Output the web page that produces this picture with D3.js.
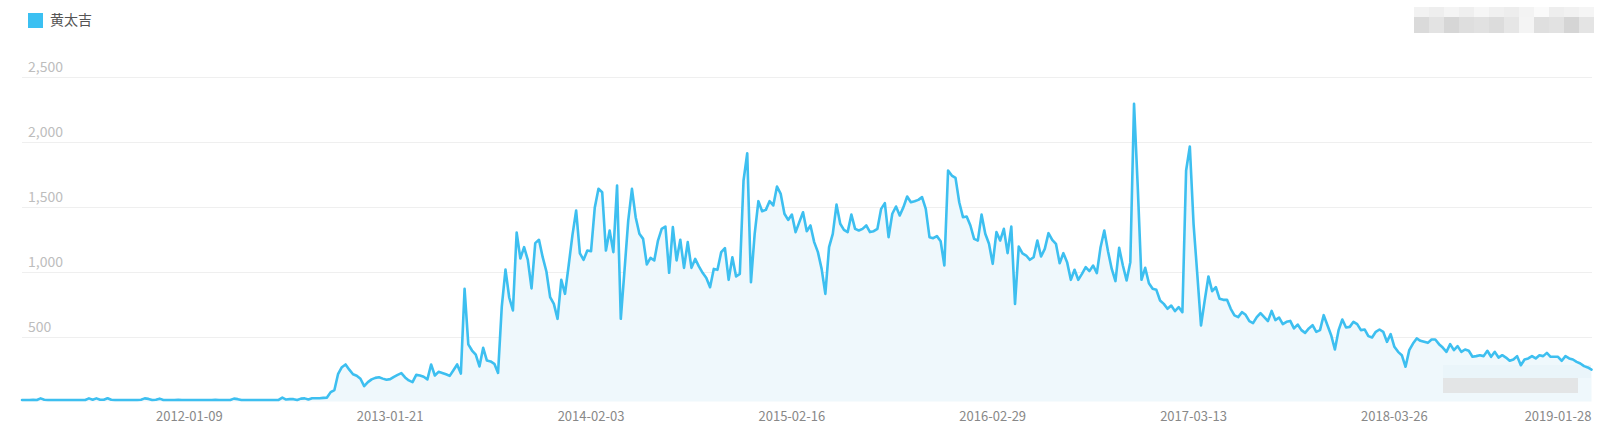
<!DOCTYPE html>
<html>
<head>
<meta charset="utf-8">
<script src="https://cdn.jsdelivr.net/npm/d3@7"></script>
<style>
  body { margin: 0; background: #fff; }
  svg { display: block; font-family: "Microsoft YaHei", "Noto Sans CJK SC", sans-serif; }
</style>
</head>
<body>
<svg width="1605" height="429"></svg>
<script>
// weekly search index, first week starts 2011-02-28
var seriesName = "黄太吉";
var startWeek = "2011-02-28";
var values = [
  12,12,12,14,12,24,14,12,12,12, 12,12,12,12,12,12,12,12,24,14,
  24,13,14,25,13,12,12,12,12,12, 12,12,14,24,20,12,14,22,12,12,
  12,12,13,12,12,12,12,12,12,12, 12,12,13,12,12,12,12,22,18,12,
  12,12,12,12,12,12,12,12,12,12, 30,15,18,18,12,22,24,15,25,25,
  25,28,30,72,88,213,264,285,245,210, 198,175,118,149,170,182,186,176,167,172,
  190,205,218,185,162,149,205,200,190,170, 285,200,228,220,210,197,240,285,215,867,
  440,392,360,270,413,315,308,290,220,730, 1015,800,700,1300,1100,1187,1090,870,1218,1244,
  1110,1000,803,751,636,936,828,1050,1280,1469, 1140,1090,1161,1156,1490,1636,1610,1161,1315,1149,
  1661,636,1008,1392,1636,1418,1290,1251,1054,1105, 1085,1238,1328,1346,990,1341,1085,1244,1028,1226,
  1028,1097,1040,990,950,879,1020,1013,1149,1179, 936,1110,962,982,1700,1910,918,1290,1541,1464,
  1474,1541,1508,1654,1597,1444,1397,1438,1303,1380, 1456,1310,1354,1226,1149,1020,828,1187,1290,1515,
  1367,1320,1303,1438,1328,1315,1328,1354,1303,1310, 1328,1482,1526,1264,1444,1500,1431,1495,1577,1533,
  1541,1551,1572,1482,1264,1256,1272,1233,1046,1777, 1738,1720,1533,1418,1423,1354,1251,1238,1438,1290,
  1213,1059,1303,1238,1328,1141,1345,751,1192,1140, 1123,1090,1110,1238,1115,1174,1295,1244,1213,1064,
  1141,1072,936,1013,936,982,1033,1003,1046,987, 1187,1315,1156,1020,926,1182,1046,931,1072,2290,
  1649,936,1028,910,867,859,777,751,713,738, 695,726,687,1777,1962,1367,982,585,777,962,
  849,879,790,782,782,713,662,649,687,667, 618,603,649,680,649,618,697,626,646,595,
  613,620,562,592,549,528,562,587,536,549, 664,587,510,400,549,631,569,574,613,595,
  549,554,503,492,536,554,536,459,518,421, 382,356,267,395,446,485,467,459,451,477,
  477,441,415,382,441,395,426,382,400,390, 344,349,356,349,390,344,382,338,356,338,
  313,323,349,279,323,331,349,331,356,349, 374,344,344,344,313,349,331,323,305,292,
  272,262,246
];
var yTicks = [500, 1000, 1500, 2000, 2500];
var xTickLabels = ["2012-01-09", "2013-01-21", "2014-02-03", "2015-02-16",
                   "2016-02-29", "2017-03-13", "2018-03-26", "2019-01-28"];

var parse = d3.utcParse("%Y-%m-%d");
var t0 = parse(startWeek);
var data = values.map(function(v, i) {
  return { date: d3.utcDay.offset(t0, i * 7), value: v };
});

var svg = d3.select("svg");

var x = d3.scaleUtc()
    .domain(d3.extent(data, function(d) { return d.date; }))
    .range([22, 1591.5]);

var y = d3.scaleLinear()
    .domain([0, 2500])
    .range([401.5, 76.5]);

// grid
svg.append("g")
  .selectAll("line")
  .data(yTicks)
  .enter().append("line")
    .attr("x1", 22)
    .attr("x2", 1592)
    .attr("y1", function(d) { return Math.round(y(d)) + 0.5; })
    .attr("y2", function(d) { return Math.round(y(d)) + 0.5; })
    .attr("stroke", "#efefef")
    .attr("stroke-width", 1);

svg.append("g")
  .selectAll("text")
  .data(yTicks)
  .enter().append("text")
    .attr("x", 28)
    .attr("y", function(d) { return y(d) - 4.5; })
    .attr("fill", "#bdbdbd")
    .attr("font-size", 14)
    .text(d3.format(","));

// area
var area = d3.area()
    .x(function(d) { return x(d.date); })
    .y0(y(0))
    .y1(function(d) { return y(d.value); });

var line = d3.line()
    .x(function(d) { return x(d.date); })
    .y(function(d) { return y(d.value); });

svg.append("path")
    .datum(data)
    .attr("d", area)
    .attr("fill", "#eff8fc");

// blurred watermark blocks (pixel mosaic)
var mosaic = svg.append("g");
var topShades = ["#f2f2f2", "#eeeeee", "#f4f4f4", "#efefef", "#f6f6f6", "#f0f0f0", "#ededed", "#f3f3f3", "#fafafa", "#eeeeee", "#f1f1f1", "#f5f5f5"];
var botShades = ["#dadada", "#e3e3e3", "#d6d6d6", "#dedede", "#e1e1e1", "#dcdcdc", "#e6e6e6", "#f4f4f4", "#dfdfdf", "#e2e2e2", "#d5d5d5", "#e4e4e4"];
topShades.forEach(function(c, i) {
  mosaic.append("rect").attr("x", 1414 + i * 15).attr("y", 7).attr("width", 15).attr("height", 10).attr("fill", c);
  mosaic.append("rect").attr("x", 1414 + i * 15).attr("y", 17).attr("width", 15).attr("height", 16).attr("fill", botShades[i]);
});
mosaic.append("rect").attr("x", 1443).attr("y", 365).attr("width", 148).attr("height", 13).attr("fill", "#eaf5fa");
mosaic.append("rect").attr("x", 1443).attr("y", 378).attr("width", 135).attr("height", 15).attr("fill", "#e3e5e6");

// line on top
svg.append("path")
    .datum(data)
    .attr("d", line)
    .attr("fill", "none")
    .attr("stroke", "#3dbff0")
    .attr("stroke-width", 2.6)
    .attr("stroke-linejoin", "round")
    .attr("stroke-linecap", "round");

// x labels
svg.append("g")
  .selectAll("text")
  .data(xTickLabels)
  .enter().append("text")
    .attr("x", function(d) { return x(parse(d)); })
    .attr("y", 421)
    .attr("text-anchor", "middle")
    .attr("fill", "#888")
    .attr("font-size", 13)
    .text(function(d) { return d; });

// legend
svg.append("rect")
    .attr("x", 28).attr("y", 13)
    .attr("width", 15).attr("height", 15)
    .attr("fill", "#3bc0f2");
svg.append("text")
    .attr("x", 50).attr("y", 25)
    .attr("fill", "#555")
    .attr("font-size", 14)
    .text(seriesName);
</script>
</body>
</html>
